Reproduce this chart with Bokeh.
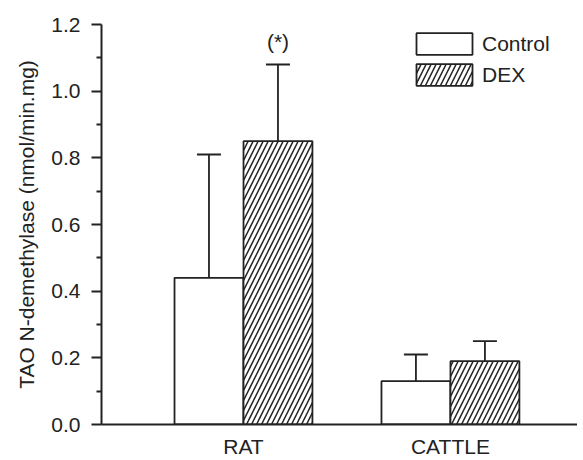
from bokeh.plotting import figure
from bokeh.models import (Range1d, FixedTicker, Whisker, TeeHead, ColumnDataSource,
                          Legend, LegendItem)
from bokeh.core.properties import value
from bokeh.transform import dodge
from bokeh.embed import file_html
from bokeh.resources import INLINE

categories = ["RAT", "CATTLE"]
control_mean = [0.44, 0.13]
control_upper = [0.81, 0.21]
dex_mean = [0.85, 0.19]
dex_upper = [1.08, 0.25]
significance = ["(*)", ""]
y_ticks = [0.0, 0.2, 0.4, 0.6, 0.8, 1.0, 1.2]
y_minor = [0.1, 0.3, 0.5, 0.7, 0.9, 1.1]
y_tick_labels = ["0.0", "0.2", "0.4", "0.6", "0.8", "1.0", "1.2"]
y_label = "TAO N-demethylase (nmol/min.mg)"

FONT = "Liberation Sans"
INK = "#222222"
xpos = [i + 1 for i in range(len(categories))]

src = ColumnDataSource(dict(x=xpos, cat=categories,
                            c_mean=control_mean, c_up=control_upper,
                            d_mean=dex_mean, d_up=dex_upper, sig=significance))

p = figure(width=577, height=460, output_backend="svg", toolbar_location=None,
           x_range=Range1d(0.314, 2.614), y_range=Range1d(0, 1.2),
           min_border_left=101, min_border_right=0, min_border_top=24, min_border_bottom=34)
p.outline_line_color = None
p.xgrid.visible = False
p.ygrid.visible = False
p.background_fill_color = "white"

W = 0.333
OFF = 0.1667
rc = p.vbar(x=dodge("x", -OFF), top="c_mean", width=W, source=src,
            fill_color="white", line_color=INK, line_width=1.8)
rd = p.vbar(x=dodge("x", OFF), top="d_mean", width=W, source=src,
            fill_color="white", line_color=INK, line_width=1.8,
            hatch_pattern="/", hatch_color=INK, hatch_scale=10, hatch_weight=1.5)

for mean_col, up_col, off in (("c_mean", "c_up", -OFF), ("d_mean", "d_up", OFF)):
    w = Whisker(source=src, base=dodge("x", off), upper=up_col, lower=mean_col,
                dimension="height", line_color=INK, line_width=1.8,
                upper_head=TeeHead(size=24, line_width=1.8, line_color=INK),
                lower_head=None)
    p.add_layout(w)

p.text(x=dodge("x", OFF), y="d_up", text="sig", source=src,
       text_font=value(FONT), text_font_size="21px", text_align="center",
       text_baseline="bottom", y_offset=-12, text_color=INK)

# axes
p.xaxis.ticker = FixedTicker(ticks=xpos)
p.xaxis.major_label_overrides = {x: c for x, c in zip(xpos, categories)}
p.xaxis.major_tick_line_color = None
p.xaxis.minor_tick_line_color = None
p.xaxis.major_tick_out = 0
p.xaxis.major_tick_in = 0
p.xaxis.axis_line_width = 2
p.xaxis.axis_line_color = INK
p.xaxis.major_label_text_font = FONT
p.xaxis.major_label_text_font_size = "21px"
p.xaxis.major_label_text_color = INK
p.xaxis.major_label_standoff = 10

p.yaxis.ticker = FixedTicker(ticks=y_ticks, minor_ticks=y_minor)
p.yaxis.major_label_overrides = {t: l for t, l in zip(y_ticks, y_tick_labels)}
p.yaxis.axis_line_width = 2
p.yaxis.axis_line_color = INK
p.yaxis.major_tick_out = 10
p.yaxis.major_tick_in = 0
p.yaxis.minor_tick_out = 5
p.yaxis.minor_tick_in = 0
p.yaxis.major_tick_line_width = 2
p.yaxis.minor_tick_line_width = 2
p.yaxis.major_tick_line_color = INK
p.yaxis.minor_tick_line_color = INK
p.yaxis.major_label_text_font = FONT
p.yaxis.major_label_text_font_size = "21px"
p.yaxis.major_label_text_color = INK
p.yaxis.major_label_standoff = 11
p.yaxis.axis_label = y_label
p.yaxis.axis_label_text_font = FONT
p.yaxis.axis_label_text_font_style = "normal"
p.yaxis.axis_label_text_font_size = "21px"
p.yaxis.axis_label_text_color = INK
p.yaxis.axis_label_standoff = 10

legend = Legend(items=[LegendItem(label="Control", renderers=[rc], index=0),
                       LegendItem(label="DEX", renderers=[rd], index=0)],
                location=(308, 336), padding=0, margin=0, spacing=4,
                glyph_width=70, glyph_height=27, label_height=27, label_standoff=3,
                label_text_font=FONT, label_text_font_size="21px", label_text_color=INK,
                border_line_color=None, background_fill_alpha=0)
p.add_layout(legend)

open("out.html", "w").write(file_html(p, INLINE))
